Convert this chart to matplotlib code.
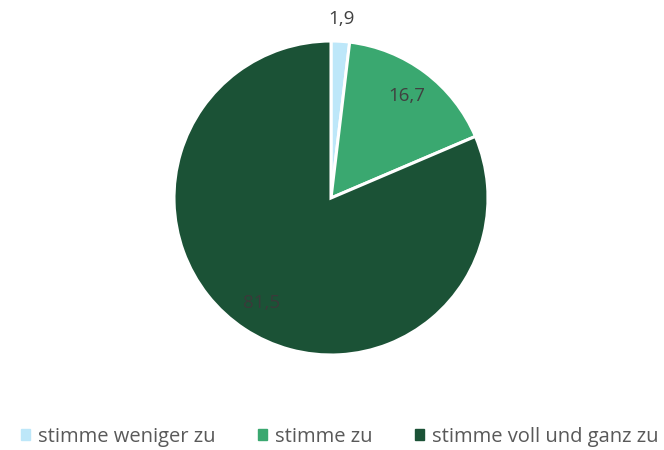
import matplotlib
matplotlib.use("Agg")
import matplotlib.pyplot as plt
import numpy as np

categories = ["stimme weniger zu", "stimme zu", "stimme voll und ganz zu"]
values = [1.9, 16.7, 81.5]
labels = ["1,9", "16,7", "81,5"]
colors = ["#BDE7F9", "#3AA870", "#1B5236"]
label_dist = [1.14, 0.81, 0.80]
label_colors = ["#404040", "#404040", "#3a3a3a"]

plt.rcParams['font.family'] = ['Open Sans', 'DejaVu Sans']

fig = plt.figure(figsize=(6.64, 4.5), dpi=100)
W, H = 664, 450
cx, cy, r = 331, 198, 157
ax = fig.add_axes([(cx - r) / W, (H - cy - r) / H, 2 * r / W, 2 * r / H])
wedges, _ = ax.pie(values, colors=colors, startangle=90, counterclock=False,
                   wedgeprops=dict(edgecolor="white", linewidth=2.2),
                   radius=1.0)
ax.set_xlim(-1, 1)
ax.set_ylim(-1, 1)
ax.set_aspect("auto")
for w, lab, d, c in zip(wedges, labels, label_dist, label_colors):
    ang = np.deg2rad((w.theta1 + w.theta2) / 2)
    ax.text(d * np.cos(ang), d * np.sin(ang), lab, ha="center", va="center",
            fontsize=13.5, color=c, clip_on=False)

handles = [plt.Rectangle((0, 0), 1, 1, color=c) for c in colors]
fig.legend(handles, categories, loc="center", bbox_to_anchor=(340 / W, 1 - 437 / H),
           ncol=3, frameon=False, fontsize=14.5, labelcolor="#595959",
           handlelength=0.45, handleheight=0.45, handletextpad=0.4, columnspacing=2.1,
           borderaxespad=0, borderpad=0)
fig.savefig("out.png", dpi=100)
